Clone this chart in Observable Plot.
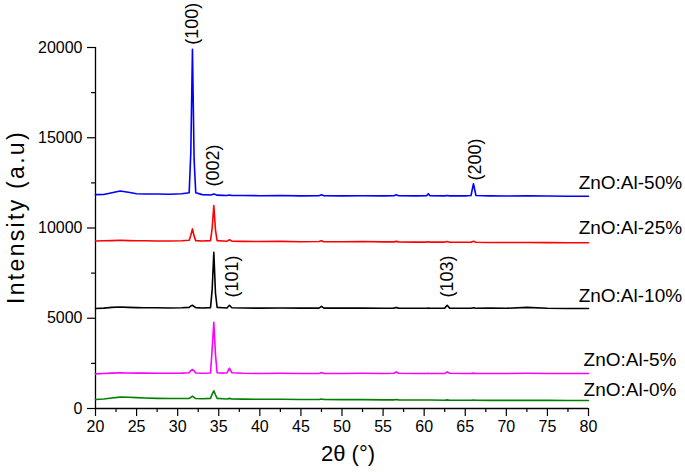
<!DOCTYPE html>
<html>
<head>
<meta charset="utf-8">
<script src="https://cdn.jsdelivr.net/npm/d3@7"></script>
<script src="https://cdn.jsdelivr.net/npm/@observablehq/plot@0.6"></script>
<style>
  html, body { margin: 0; padding: 0; background: #fff; }
  #chart { width: 685px; height: 472px; }
</style>
</head>
<body>
<div id="chart"></div>
<script>
// 2θ sampling positions (degrees)
const theta = [20, 21, 22, 23, 24, 25, 26, 27.5, 29, 30.5, 31.4, 31.6, 31.8, 32.0, 32.2, 33, 34.0, 34.2, 34.4, 34.6, 34.8, 35.5, 36.0, 36.3, 36.6, 38, 40, 42.5, 45, 47.2, 47.5, 47.8, 50, 52.5, 55, 56.3, 56.6, 56.9, 59, 60.3, 60.5, 60.7, 62.5, 62.8, 63.1, 65, 65.7, 66.0, 66.3, 68, 70, 72.5, 75, 77.5, 80];

// intensities (a.u)
const al50 = [11850, 11860, 11950, 12050, 11980, 11900, 11880, 11880, 11870, 11900, 11950, 14200, 19900, 13800, 11950, 11850, 11830, 11850, 11880, 11850, 11820, 11810, 11800, 11830, 11800, 11800, 11790, 11800, 11780, 11790, 11840, 11790, 11780, 11790, 11780, 11790, 11840, 11790, 11780, 11790, 11900, 11790, 11780, 11800, 11780, 11780, 11800, 12450, 11800, 11780, 11770, 11780, 11770, 11760, 11760];
const al25 = [9280, 9290, 9300, 9320, 9300, 9290, 9290, 9280, 9280, 9290, 9320, 9600, 9950, 9550, 9300, 9280, 9300, 10000, 11250, 9900, 9300, 9280, 9270, 9350, 9270, 9260, 9250, 9260, 9240, 9250, 9290, 9240, 9240, 9250, 9230, 9230, 9260, 9230, 9220, 9220, 9230, 9220, 9220, 9250, 9210, 9210, 9210, 9260, 9210, 9200, 9200, 9200, 9190, 9180, 9180];
const al10 = [5540, 5560, 5600, 5620, 5600, 5590, 5580, 5580, 5570, 5580, 5600, 5680, 5720, 5650, 5590, 5570, 5590, 6600, 8660, 6400, 5600, 5580, 5570, 5720, 5580, 5570, 5560, 5570, 5560, 5560, 5660, 5560, 5560, 5570, 5550, 5560, 5600, 5560, 5550, 5550, 5560, 5550, 5560, 5720, 5560, 5550, 5550, 5580, 5550, 5560, 5550, 5600, 5550, 5540, 5540];
const al5 = [1920, 1940, 1960, 1980, 1970, 1960, 1960, 1950, 1950, 1960, 1980, 2100, 2160, 2080, 1970, 1950, 1970, 3300, 4780, 3000, 1980, 1960, 1980, 2230, 1980, 1950, 1940, 1950, 1940, 1940, 1990, 1940, 1940, 1950, 1940, 1950, 2020, 1950, 1940, 1940, 1950, 1940, 1940, 2030, 1950, 1940, 1940, 1960, 1940, 1940, 1940, 1950, 1940, 1940, 1940];
const al0 = [500, 530, 580, 630, 620, 600, 580, 560, 550, 550, 560, 620, 680, 610, 550, 540, 560, 800, 980, 760, 560, 540, 530, 560, 530, 520, 510, 510, 500, 500, 530, 500, 490, 490, 480, 480, 500, 480, 470, 470, 470, 470, 460, 480, 460, 460, 460, 470, 460, 450, 450, 450, 450, 440, 440];

const seriesNames = ["ZnO:Al-50%", "ZnO:Al-25%", "ZnO:Al-10%", "ZnO:Al-5%", "ZnO:Al-0%"];
const seriesValues = [al50, al25, al10, al5, al0];
const seriesColors = ["#0000ff", "#ff0000", "#000000", "#ff00ff", "#008000"];
const labelTheta = [78.8, 78.8, 78.8, 79.4, 79.4];
const labelIntensity = [12520, 10030, 6260, 2710, 1050];

// Miller index annotations
const peakNames = ["(100)", "(002)", "(101)", "(103)", "(200)"];
const peakTheta = [31.8, 34.35, 36.6, 62.8, 66.2];
const peakIntensity = [20150, 12300, 6150, 6150, 12630];

const xTicks = [20, 25, 30, 35, 40, 45, 50, 55, 60, 65, 70, 75, 80];
const xMinor = [22.5, 27.5, 32.5, 37.5, 42.5, 47.5, 52.5, 57.5, 62.5, 67.5, 72.5, 77.5];
const yTicks = [0, 5000, 10000, 15000, 20000];
const yMinor = [2500, 7500, 12500, 17500];

const rows = [];
seriesNames.forEach((name, s) => {
  theta.forEach((t, i) => rows.push({series: name, theta: t, intensity: seriesValues[s][i]}));
});
const labels = seriesNames.map((name, s) => ({name, x: labelTheta[s], y: labelIntensity[s]}));
const peaks = peakNames.map((name, i) => ({name, x: peakTheta[i], y: peakIntensity[i]}));

const font = "'Liberation Sans', Arial, Helvetica, sans-serif";

const chart = Plot.plot({
  width: 685,
  height: 472,
  marginLeft: 95,
  marginRight: 97,
  marginTop: 47,
  marginBottom: 64,
  style: {fontFamily: font, fontSize: "16px", color: "black", background: "white", overflow: "visible"},
  x: {domain: [20, 80]},
  y: {domain: [0, 20000]},
  color: {domain: seriesNames, range: seriesColors},
  marks: [
    Plot.axisX({ticks: xTicks, tickSize: 8, tickPadding: 4, fontSize: 16, label: null, strokeWidth: 1.2}),
    Plot.axisX({ticks: xMinor, tickSize: 4, text: null, label: null, strokeWidth: 1.2}),
    Plot.axisY({ticks: yTicks, tickSize: 8, tickPadding: 5, fontSize: 16, label: null, tickFormat: d => String(d), strokeWidth: 1.2}),
    Plot.axisY({ticks: yMinor, tickSize: 4, text: null, label: null, strokeWidth: 1.2}),
    Plot.ruleX([20], {y1: 0, y2: 20000, strokeWidth: 1.3}),
    Plot.ruleY([0], {x1: 20, x2: 80, strokeWidth: 1.3}),
    Plot.lineY(rows, {x: "theta", y: "intensity", z: "series", stroke: "series", strokeWidth: 1.6}),
    Plot.text(labels, {x: "x", y: "y", text: "name", textAnchor: "start", fontSize: 19, fill: "black"}),
    Plot.text(peaks, {x: "x", y: "y", text: "name", rotate: -90, textAnchor: "start", lineAnchor: "middle", fontSize: 18, fill: "black"}),
    Plot.text(["Intensity (a.u)"], {frameAnchor: "left", dx: -79, dy: -11, rotate: -90, textAnchor: "middle", lineAnchor: "middle", fontSize: 23, fill: "black"}),
    Plot.text(["2θ (°)"], {frameAnchor: "bottom", dx: 6, dy: 45, textAnchor: "middle", lineAnchor: "middle", fontSize: 22, fill: "black"})
  ]
});

document.getElementById("chart").appendChild(chart);

// the reference's y title is spaced a little wider than the font's natural spacing
chart.querySelectorAll("text").forEach(t => {
  if (t.textContent === "Intensity (a.u)") t.style.letterSpacing = "2.3px";
});
</script>
</body>
</html>
